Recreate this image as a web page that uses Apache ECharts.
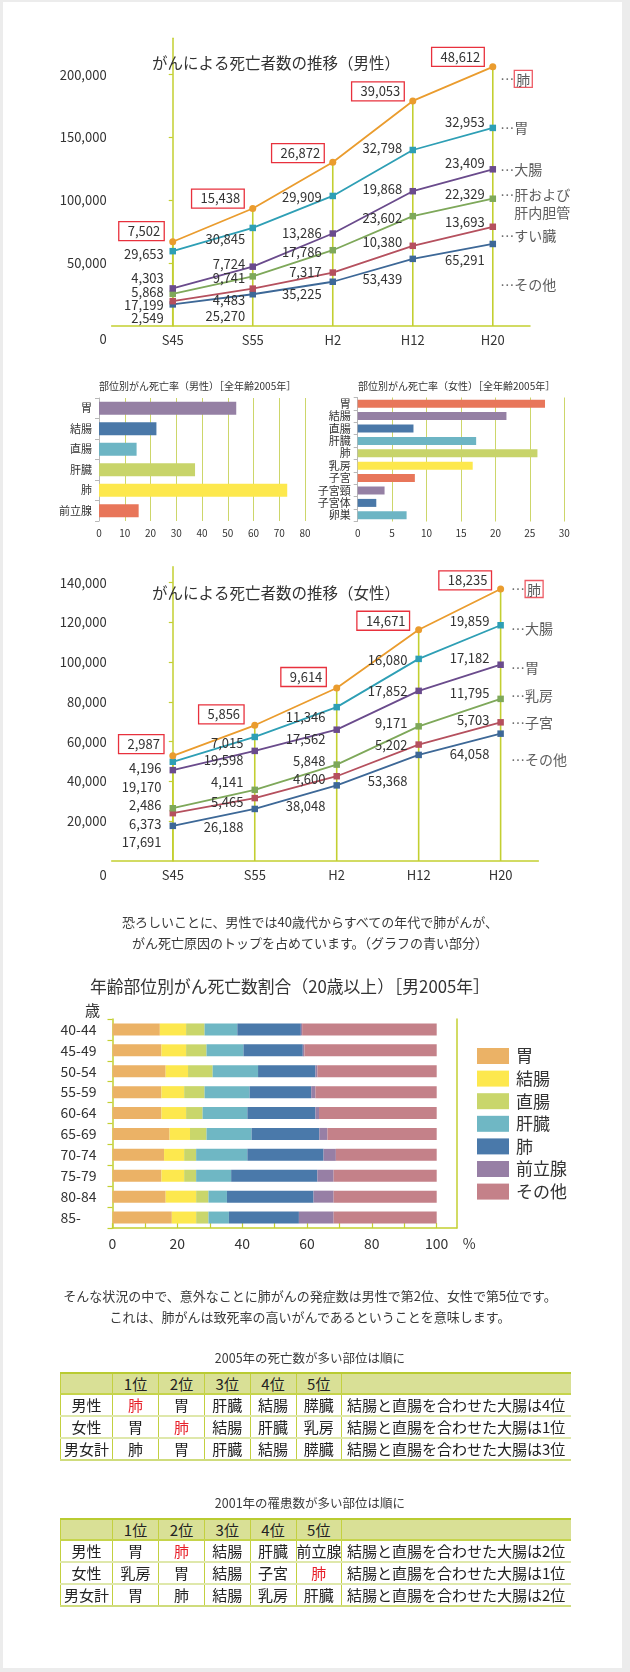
<!DOCTYPE html>
<html><head><meta charset="utf-8">
<script src="https://cdn.jsdelivr.net/npm/echarts@6/dist/echarts.min.js"></script>
<style>
html,body{margin:0;padding:0;background:#ececec;width:630px;height:1672px;overflow:hidden;}
#panel{position:absolute;left:3px;top:2px;width:619px;height:1666px;background:#fff;}
#chart{position:absolute;left:0;top:0;width:630px;height:1672px;}
.txt{position:absolute;left:0;width:620px;text-align:center;font-family:'Noto Sans CJK JP','Noto Sans',sans-serif;color:#3a3a3a;font-size:13px;line-height:21px;white-space:nowrap;}
table.rk{position:absolute;left:60px;width:510px;border-collapse:collapse;table-layout:fixed;font-family:'Noto Sans CJK JP','Noto Sans',sans-serif;font-size:15px;color:#222;}
.rk th{background:#d9e096;font-weight:normal;height:19px;line-height:19px;border-top:2px solid #b9cb31;border-bottom:2px solid #c6d44b;border-left:1px solid #c3d040;padding:0;text-align:center;}
.rk td{height:20px;line-height:20px;border-bottom:2px solid #dfe8ab;border-left:1px solid #c3d040;padding:0;text-align:center;white-space:nowrap;overflow:hidden;}
.rk td.note{text-align:left;padding-left:5px;}
.rk tr:last-child td{border-bottom:2px solid #cfdc7c;}
.rk .red{color:#e8202a;}
</style></head>
<body>
<div id="panel"></div>
<div id="chart"></div>
<div class="txt" style="top:911px">恐ろしいことに、男性では40歳代からすべての年代で肺がんが、<br>がん死亡原因のトップを占めています。（グラフの青い部分）</div>
<div class="txt" style="top:1285px">そんな状況の中で、意外なことに肺がんの発症数は男性で第2位、女性で第5位です。<br>これは、肺がんは致死率の高いがんであるということを意味します。</div>
<div class="txt" id="t1title" style="top:1347px;font-size:12.5px"></div>
<table class="rk" id="tbl1" style="top:1372px"></table>
<div class="txt" id="t2title" style="top:1492px;font-size:12.5px"></div>
<table class="rk" id="tbl2" style="top:1518px"></table>
<script>
// ---------- data ----------
const lineCats = ['S45', 'S55', 'H2', 'H12', 'H20'];
// male deaths by site
const maleLung = [7502, 15438, 26872, 39053, 48612];
const maleStomach = [29653, 30845, 29909, 32798, 32953];
const maleColon = [4303, 7724, 13286, 19868, 23409];
const maleLiver = [5868, 9741, 17786, 23602, 22329];
const malePancreas = [2549, 4483, 7317, 10380, 13693];
const maleOther = [17199, 25270, 35225, 53439, 65291];
const maleYTicks = [0, 50000, 100000, 150000, 200000];
// female deaths by site
const femLung = [2987, 5856, 9614, 14671, 18235];
const femColon = [4196, 7015, 11346, 16080, 19859];
const femStomach = [19170, 19598, 17562, 17852, 17182];
const femBreast = [2486, 4141, 5848, 9171, 11795];
const femUterus = [6373, 5465, 4600, 5202, 5703];
const femOther = [17691, 26188, 38048, 53368, 64058];
const femYTicks = [0, 20000, 40000, 60000, 80000, 100000, 120000, 140000];
// mortality rate by site 2005
const maleRateCats = ['胃', '結腸', '直腸', '肝臓', '肺', '前立腺'];
const maleRates = [53.3, 22.3, 14.6, 37.3, 73.1, 15.4];
const femRateCats = ['胃', '結腸', '直腸', '肝臓', '肺', '乳房', '子宮', '子宮頸', '子宮体', '卵巣'];
const femRates = [27.2, 21.6, 8.1, 17.2, 26.1, 16.7, 8.3, 3.9, 2.7, 7.1];
// share by age (male 2005)
const ageCats = ['40-44', '45-49', '50-54', '55-59', '60-64', '65-69', '70-74', '75-79', '80-84', '85-'];
const shareNames = ['胃', '結腸', '直腸', '肝臓', '肺', '前立腺', 'その他'];
const shareStomach = [14.6, 15.1, 16.4, 15.1, 15.1, 17.6, 15.9, 15.1, 16.4, 18.3];
const shareColon = [8.1, 7.6, 6.9, 7.0, 7.6, 6.3, 6.2, 7.0, 9.4, 7.5];
const shareRectum = [5.7, 6.3, 7.6, 6.3, 5.1, 5.1, 3.7, 3.7, 3.8, 3.8];
const shareLiver = [10.1, 11.4, 14.0, 13.9, 13.8, 13.9, 15.8, 10.8, 5.7, 6.3];
const shareLung = [19.6, 18.3, 17.7, 19.0, 21.0, 20.9, 23.5, 26.6, 26.7, 21.6];
const shareProstate = [0.4, 0.5, 0.6, 1.3, 1.1, 2.5, 3.8, 5.0, 6.2, 10.7];
const shareOther = [41.5, 40.8, 36.8, 37.4, 36.3, 33.7, 31.1, 31.8, 31.8, 31.8];
const shareXLabels = [0, 20, 40, 60, 80, 100];
const shareXTicks = [0, 10, 20, 30, 40, 50, 60, 70, 80, 90, 100];
// tables
const rankHead = ['', '1位', '2位', '3位', '4位', '5位', ''];
const deaths2005 = [
  ['男性', '肺', '胃', '肝臓', '結腸', '膵臓', '結腸と直腸を合わせた大腸は4位'],
  ['女性', '胃', '肺', '結腸', '肝臓', '乳房', '結腸と直腸を合わせた大腸は1位'],
  ['男女計', '肺', '胃', '肝臓', '結腸', '膵臓', '結腸と直腸を合わせた大腸は3位']
];
const cases2001 = [
  ['男性', '胃', '肺', '結腸', '肝臓', '前立腺', '結腸と直腸を合わせた大腸は2位'],
  ['女性', '乳房', '胃', '結腸', '子宮', '肺', '結腸と直腸を合わせた大腸は1位'],
  ['男女計', '胃', '肺', '結腸', '乳房', '肝臓', '結腸と直腸を合わせた大腸は2位']
];
const table1Title = '2005年の死亡数が多い部位は順に';
const table2Title = '2001年の罹患数が多い部位は順に';

// ---------- layout / style ----------
const FONT = "'Noto Sans CJK JP','Noto Sans',sans-serif";
const TXT = '#333';
const AX = '#c3cf31';
const RED = '#e8313d';
const C = {orange: '#ea9c2e', teal: '#2e9fb5', purple: '#6a4b8c', green: '#7ea85a', red: '#b5505e', blue: '#3d6897'};

const maleSpec = [ // top -> bottom
  {raw: maleLung, color: C.orange, symbol: 'circle', boxed: true, dy: [-10.7, -10, -9, -9.6, -10], name: '…{bx|肺}', nameDy: 12},
  {raw: maleStomach, color: C.teal, symbol: 'rect', dy: [3, 11, 0.8, -2, -6], name: '…胃', nameDy: 0},
  {raw: maleColon, color: C.purple, symbol: 'rect', dy: [-10, -2.7, 0, -2, -6], name: '…大腸', nameDy: 0},
  {raw: maleLiver, color: C.green, symbol: 'rect', dy: [-1.5, 1.3, 1.5, 2, -5], name: '…肝および\n　肝内胆管', nameDy: 4.6},
  {raw: malePancreas, color: C.red, symbol: 'rect', dy: [17, 11.4, 0, -4, -5], name: '…すい臓', nameDy: 9},
  {raw: maleOther, color: C.blue, symbol: 'rect', dy: [0.6, 21.5, 12, 20.4, 16], name: '…その他', nameDy: 41}
];
const maleLay = {numDx: [0.3, 1.7, -1.9, -1.4, 1.2], numDist: 6, boxDx: [0, 0, 0, 0, 0], nameDist: 7};
const femSpec = [
  {raw: femLung, color: C.orange, symbol: 'circle', boxed: true, dy: [-11.8, -11, -11, -9, -8.7], name: '…{bx|肺}', nameDy: 0},
  {raw: femColon, color: C.teal, symbol: 'rect', dy: [6.5, 6.4, 10.2, 1, -4.5], name: '…大腸', nameDy: 3},
  {raw: femStomach, color: C.purple, symbol: 'rect', dy: [16.6, 9, 9.6, 0, -6.4], name: '…胃', nameDy: 2.6},
  {raw: femBreast, color: C.green, symbol: 'rect', dy: [-3, -7.5, -4, -3, -5.6], name: '…乳房', nameDy: -3},
  {raw: femUterus, color: C.red, symbol: 'rect', dy: [10.5, 3.6, 3, 0, -2.3], name: '…子宮', nameDy: 0},
  {raw: femOther, color: C.blue, symbol: 'rect', dy: [16, 18.4, 21, 26, 20.6], name: '…その他', nameDy: 26}
];
const femLay = {numDx: [0, 0, 0, 0, 0], numDist: 8, boxDx: [-0.3, -2.2, -1.9, -0.6, -0.6], nameDist: 10};

const fmt = v => String(v).replace(/\B(?=(\d{3})+(?!\d))/g, ',');

function buildLineSeries(gi, specs, lay) {
  const bottomUp = specs.slice().reverse();
  const cums = [];
  let acc = lineCats.map(() => 0);
  bottomUp.forEach(s => { acc = acc.map((a, i) => a + s.raw[i]); cums.push(acc.slice()); });
  const out = [];
  out.push({
    type: 'bar', xAxisIndex: gi, yAxisIndex: gi, barWidth: 1.6, z: 1, silent: true,
    itemStyle: {color: AX}, data: cums[cums.length - 1].map((v, i) => [i, v])
  });
  bottomUp.forEach((s, k) => {
    const boxedLabel = s.boxed ? {borderColor: RED, borderWidth: 1.3, padding: [3, 4, 2, 9], lineHeight: 14, distance: 5} : {distance: lay.numDist};
    out.push({
      type: 'line', xAxisIndex: gi, yAxisIndex: gi, z: 3,
      symbol: s.symbol, symbolSize: s.symbol === 'circle' ? 7 : 6.5,
      lineStyle: {color: s.color, width: 1.8}, itemStyle: {color: s.color},
      data: cums[k].map((v, i) => ({value: [i, v], label: {offset: [s.boxed ? lay.boxDx[i] : lay.numDx[i], s.dy[i]]}})),
      label: Object.assign({
        show: true, position: 'left', fontSize: 13, color: TXT, fontFamily: FONT,
        formatter: p => fmt(s.raw[p.dataIndex])
      }, boxedLabel)
    });
  });
  out.push({
    type: 'scatter', xAxisIndex: gi, yAxisIndex: gi, symbolSize: 1, z: 5, silent: true,
    itemStyle: {color: 'rgba(0,0,0,0)'},
    data: specs.map(s => {
      const k = bottomUp.indexOf(s);
      return {value: [4, cums[k][4]], label: {offset: [0, s.nameDy], formatter: s.name}};
    }),
    label: {
      show: true, position: 'right', distance: lay.nameDist, fontSize: 14, color: TXT, fontFamily: FONT, lineHeight: 18, align: 'left',
      rich: {bx: {fontSize: 14, color: TXT, fontFamily: FONT, borderColor: RED, borderWidth: 1.3, padding: [2, 2, 1, 2]}}
    }
  });
  return out;
}

function lineAxes(gi, xmin, xmax, ymax, yTicks, zeroPad) {
  return {
    x: {
      gridIndex: gi, type: 'value', min: xmin, max: xmax,
      axisLine: {show: true, onZero: false, lineStyle: {color: AX, width: 1.5}},
      axisTick: {show: false}, splitLine: {show: false},
      axisLabel: {customValues: [0, 1, 2, 3, 4], formatter: v => lineCats[Math.round(v)], fontSize: 13, color: TXT, fontFamily: FONT, margin: 8}
    },
    y: {
      gridIndex: gi, type: 'value', min: 0, max: ymax,
      axisLine: {show: true, lineStyle: {color: AX, width: 1.5}},
      axisTick: {show: true, customValues: yTicks.slice(1), length: 4, lineStyle: {color: AX, width: 1.2}},
      splitLine: {show: false},
      axisLabel: {
        customValues: yTicks, fontSize: 13, color: TXT, fontFamily: FONT, margin: 5,
        formatter: v => v === 0 ? '{z|0}' : fmt(v),
        rich: {z: {padding: [zeroPad, 0, 0, 0], fontSize: 13, color: TXT, fontFamily: FONT}}
      }
    }
  };
}

const maleAx = lineAxes(0, -0.764, 4.465, 229000, maleYTicks, 27);
const femAx = lineAxes(3, -0.7456, 4.461, 148050, femYTicks, 29);

const rateColors = ['#e8765a', '#9580a4', '#4a78a8', '#6db5c4', '#c8d46a', '#fde84d'];
const maleRateColors = ['#9580a4', '#4a78a8', '#6db5c4', '#c8d46a', '#fde84d', '#e8765a'];

function rateAxes(gi, cats, max, interval) {
  return {
    x: {
      gridIndex: gi, type: 'value', min: 0, max: max, interval: interval,
      axisLine: {show: false}, axisTick: {show: false},
      splitLine: {show: true, lineStyle: {color: '#cdd66a', width: 1}},
      axisLabel: {fontSize: 10, color: TXT, fontFamily: FONT, margin: 7}
    },
    y: {
      gridIndex: gi, type: 'category', data: cats, inverse: true,
      axisLine: {show: true, lineStyle: {color: '#b8b8b8'}},
      axisTick: {show: true, length: 4, interval: 0, lineStyle: {color: '#b8b8b8'}},
      axisLabel: {fontSize: 11, color: TXT, fontFamily: FONT, margin: 7, interval: 0}
    }
  };
}
const maleRateAx = rateAxes(1, maleRateCats, 80, 10);
const femRateAx = rateAxes(2, femRateCats, 30, 5);

const shareData = [shareStomach, shareColon, shareRectum, shareLiver, shareLung, shareProstate, shareOther];
const shareColors = ['#ebb266', '#fde84e', '#c9d66b', '#6fb7c4', '#4a79aa', '#977fa5', '#c48189'];

const option = {
  animation: false,
  textStyle: {fontFamily: FONT},
  title: [
    {text: 'がんによる死亡者数の推移（男性）', left: 152, top: 55, padding: 0, textStyle: {fontSize: 15.5, fontWeight: 'normal', color: TXT, fontFamily: FONT}},
    {text: '部位別がん死亡率（男性）［全年齢2005年］', left: 99, top: 381, padding: 0, textStyle: {fontSize: 10, fontWeight: 'normal', color: TXT, fontFamily: FONT}},
    {text: '部位別がん死亡率（女性）［全年齢2005年］', left: 358, top: 381, padding: 0, textStyle: {fontSize: 10, fontWeight: 'normal', color: TXT, fontFamily: FONT}},
    {text: 'がんによる死亡者数の推移（女性）', left: 152, top: 585, padding: 0, textStyle: {fontSize: 15.5, fontWeight: 'normal', color: TXT, fontFamily: FONT}},
    {text: '年齢部位別がん死亡数割合（20歳以上）［男2005年］', left: 90, top: 978, padding: 0, textStyle: {fontSize: 16.8, fontWeight: 'normal', color: TXT, fontFamily: FONT}},
    {text: '歳', left: 85, top: 1003, padding: 0, textStyle: {fontSize: 15, fontWeight: 'normal', color: TXT, fontFamily: FONT}}
  ],
  legend: {
    data: shareNames, orient: 'vertical', left: 477, top: 1047.5, itemWidth: 32, itemHeight: 16, itemGap: 5.6,
    icon: 'rect', selectedMode: false, padding: 0,
    textStyle: {fontSize: 17, color: TXT, fontFamily: FONT, lineHeight: 17, padding: [0, 0, 0, 2]}
  },
  grid: [
    {left: 111.6, right: 100, top: 38.3, bottom: 1346},
    {left: 99, right: 325, top: 398, bottom: 1151},
    {left: 357.7, right: 65.7, top: 397.5, bottom: 1150.5},
    {left: 111.7, right: 91.6, top: 566.7, bottom: 811},
    {left: 112.5, right: 173.2, top: 1019, bottom: 444}
  ],
  xAxis: [
    maleAx.x, maleRateAx.x, femRateAx.x, femAx.x,
    {
      gridIndex: 4, type: 'value', min: 0, max: 106.2,
      axisLine: {show: true, lineStyle: {color: AX, width: 1.5}},
      axisTick: {show: true, inside: true, length: 5, customValues: shareXTicks, lineStyle: {color: AX, width: 1.2}},
      splitLine: {show: false},
      axisLabel: {customValues: shareXLabels, fontSize: 14, color: TXT, fontFamily: FONT, margin: 9},
      name: '%', nameLocation: 'end', nameGap: 6,
      nameTextStyle: {fontSize: 14, color: TXT, fontFamily: FONT, verticalAlign: 'top', padding: [9, 0, 0, 0]}
    }
  ],
  yAxis: [
    maleAx.y, maleRateAx.y, femRateAx.y, femAx.y,
    {
      gridIndex: 4, type: 'category', data: ageCats, inverse: true,
      axisLine: {show: true, lineStyle: {color: AX, width: 1.5}},
      axisTick: {show: true, length: 5, interval: 0, lineStyle: {color: AX, width: 1.2}},
      axisLabel: {fontSize: 14, color: TXT, fontFamily: FONT, align: 'left', margin: 52, interval: 0}
    },
    {
      gridIndex: 4, type: 'category', data: ageCats, inverse: true, position: 'right',
      axisLine: {show: true, lineStyle: {color: AX, width: 1.5}},
      axisTick: {show: false}, axisLabel: {show: false}
    }
  ],
  series: [].concat(
    buildLineSeries(0, maleSpec, maleLay),
    buildLineSeries(3, femSpec, femLay),
    [
      {type: 'bar', xAxisIndex: 1, yAxisIndex: 1, data: maleRates, barWidth: 13,
        itemStyle: {color: p => maleRateColors[p.dataIndex % maleRateColors.length]}},
      {type: 'bar', xAxisIndex: 2, yAxisIndex: 2, data: femRates, barWidth: 8,
        itemStyle: {color: p => rateColors[p.dataIndex % rateColors.length]}}
    ],
    shareData.map((d, i) => ({
      type: 'bar', name: shareNames[i], stack: 'share', xAxisIndex: 4, yAxisIndex: 4,
      data: d, barWidth: 12, itemStyle: {color: shareColors[i]}
    }))
  )
};

const chart = echarts.init(document.getElementById('chart'), null, {renderer: 'canvas'});
chart.setOption(option);

// ---------- tables ----------
function buildTable(id, head, rows) {
  const tbl = document.getElementById(id);
  const widths = [52, 46, 46, 45.5, 46, 45.5, 229];
  let html = '<colgroup>' + widths.map(w => '<col style="width:' + w + 'px">').join('') + '</colgroup>';
  html += '<tr>' + head.map(h => '<th>' + h + '</th>').join('') + '</tr>';
  rows.forEach(r => {
    html += '<tr>' + r.map((c, i) => {
      if (i === 6) return '<td class="note">' + c + '</td>';
      const red = (i >= 1 && i <= 5 && c === '肺' && r[0] !== '男女計');
      return '<td' + (red ? ' class="red"' : '') + '>' + c + '</td>';
    }).join('') + '</tr>';
  });
  tbl.innerHTML = html;
}
document.getElementById('t1title').textContent = table1Title;
document.getElementById('t2title').textContent = table2Title;
buildTable('tbl1', rankHead, deaths2005);
buildTable('tbl2', rankHead, cases2001);
</script>
</body></html>
